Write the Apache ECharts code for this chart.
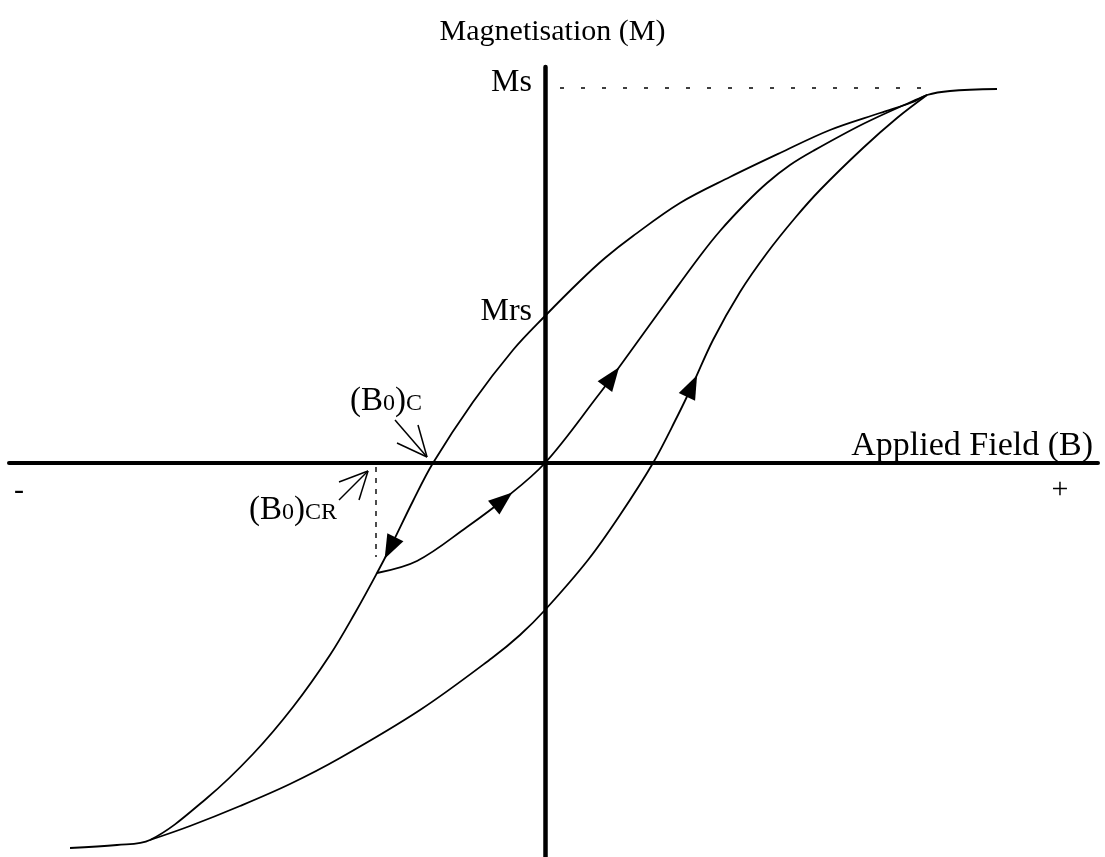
<!DOCTYPE html>
<html>
<head>
<meta charset="utf-8">
<title>Magnetisation hysteresis</title>
<script src="https://cdn.jsdelivr.net/npm/echarts@6/dist/echarts.min.js"></script>
<style>
  html, body { margin: 0; padding: 0; background: #fff; }
  #chart { width: 1105px; height: 857px; }
</style>
</head>
<body>
<div id="chart"></div>
<script>
// Field (B) and magnetisation (M) in arbitrary units, origin at the axis crossing.

// Descending major branch, from positive saturation down to negative saturation.
const upperBranch = [
  [4.52, 3.74], [4.05, 3.72], [3.82, 3.68], [3.68, 3.61], [3.35, 3.50], [2.85, 3.33],
  [2.35, 3.10], [1.85, 2.86], [1.35, 2.60], [0.88, 2.27], [0.60, 2.05], [0.35, 1.82],
  [0, 1.47], [-0.32, 1.13], [-0.72, 0.61], [-1.12, 0], [-1.32, -0.38], [-1.55, -0.85],
  [-1.68, -1.10], [-1.90, -1.50], [-2.15, -1.92], [-2.52, -2.44], [-2.92, -2.91],
  [-3.38, -3.35], [-3.95, -3.77], [-4.28, -3.82], [-4.75, -3.85]
];

// Ascending major branch, from negative saturation back up to positive saturation.
const lowerBranch = [
  [-3.95, -3.77], [-3.55, -3.63], [-3.05, -3.43], [-2.55, -3.21], [-2.05, -2.95],
  [-1.25, -2.47], [-0.53, -1.95], [-0.25, -1.72], [0, -1.47], [0.43, -0.97], [0.75, -0.52],
  [1.08, 0], [1.32, 0.46], [1.47, 0.77], [1.68, 1.23], [1.95, 1.71], [2.22, 2.10],
  [2.50, 2.45], [2.75, 2.73], [3.18, 3.15], [3.52, 3.45], [3.82, 3.68]
];

// Recoil curve from the descending branch through the origin and up to saturation.
const recoilCurve = [
  [-1.68, -1.10], [-1.28, -0.98], [-0.78, -0.64], [-0.42, -0.37], [0, 0], [0.55, 0.70],
  [0.67, 0.86], [0.88, 1.15], [1.22, 1.62], [1.55, 2.07], [1.75, 2.32], [2.00, 2.59],
  [2.22, 2.80], [2.45, 2.98], [2.68, 3.12], [3.18, 3.39], [3.68, 3.62], [3.82, 3.68]
];

// Direction markers: the curve and the point on it where a filled arrowhead sits.
const arrowMarks = [
  { curve: upperBranch, at: [-1.55, -0.85] },
  { curve: recoilCurve, at: [-0.42, -0.37] },
  { curve: recoilCurve, at: [0.67, 0.86] },
  { curve: lowerBranch, at: [1.47, 0.77] }
];

// Reference levels
const msLevel = 3.75;          // saturation magnetisation
const msGuide = [[0.15, msLevel], [3.9, msLevel]];
const bcrGuide = [[-1.69, -0.04], [-1.69, -0.94]];

// Open pointer arrows for the (B0)C and (B0)CR labels: shaft plus two barbs.
const pointerBc = [
  [[-1.50, 0.43], [-1.18, 0.06]],
  [[-1.48, 0.20], [-1.18, 0.06]],
  [[-1.27, 0.38], [-1.18, 0.06]]
];
const pointerBcr = [
  [[-2.06, -0.37], [-1.77, -0.08]],
  [[-2.06, -0.19], [-1.77, -0.08]],
  [[-1.86, -0.37], [-1.77, -0.08]]
];

// Text annotations
const axisTitleM = 'Magnetisation (M)';
const axisTitleB = 'Applied Field (B)';
const textMs = 'Ms';
const textMrs = 'Mrs';
const textMinus = '-';
const textPlus = '+';

const SERIF = '"Liberation Serif", "Times New Roman", serif';

function arrowRotation(curve, at) {
  const i = curve.findIndex(p => p[0] === at[0] && p[1] === at[1]);
  const a = curve[Math.max(0, i - 1)];
  const b = curve[Math.min(curve.length - 1, i + 1)];
  const phi = Math.atan2(b[1] - a[1], b[0] - a[0]) * 180 / Math.PI;
  return phi - 90;
}

function curveSeries(name, data) {
  return {
    name, type: 'line', data, showSymbol: false, smooth: 0.35,
    lineStyle: { color: '#000', width: 1.8 }, z: 3, silent: true
  };
}

function textItem(value, formatter, opts) {
  return {
    value,
    label: Object.assign({
      show: true, position: [0, 0], formatter, color: '#000', opacity: 1,
      fontFamily: SERIF, fontSize: 32
    }, opts)
  };
}

const smallRich = {
  a: { fontFamily: SERIF, fontSize: 33, color: '#000', verticalAlign: 'bottom' },
  b: { fontFamily: SERIF, fontSize: 24, color: '#000', verticalAlign: 'bottom', padding: [0, 0, 2, 0] }
};

const chart = echarts.init(document.getElementById('chart'), null, { renderer: 'canvas' });

chart.setOption({
  backgroundColor: '#fff',
  animation: false,
  title: {
    text: axisTitleM, left: 'center', top: 12,
    textStyle: { fontFamily: SERIF, fontSize: 30, fontWeight: 'normal', color: '#000' }
  },
  grid: { left: 9, right: 7, top: 67, bottom: 0, containLabel: false },
  xAxis: {
    type: 'value', min: -5.36, max: 5.53,
    axisLine: { onZero: true, lineStyle: { color: '#000', width: 4 } },
    axisTick: { show: false }, axisLabel: { show: false }, splitLine: { show: false }
  },
  yAxis: {
    type: 'value', min: -3.94, max: 3.96,
    axisLine: { onZero: true, lineStyle: { color: '#000', width: 4.5 } },
    axisTick: { show: false }, axisLabel: { show: false }, splitLine: { show: false }
  },
  series: [
    curveSeries('descending', upperBranch),
    curveSeries('ascending', lowerBranch),
    curveSeries('recoil', recoilCurve),
    {
      name: 'Ms level', type: 'line', data: msGuide, showSymbol: false, silent: true,
      lineStyle: { color: '#000', width: 1.4, type: [4, 17] }, z: 2
    },
    {
      name: 'Bcr level', type: 'line', data: bcrGuide, showSymbol: false, silent: true,
      lineStyle: { color: '#000', width: 1.4, type: [5, 6] }, z: 2
    },
    {
      name: 'pointers', type: 'lines', coordinateSystem: 'cartesian2d', silent: true,
      lineStyle: { color: '#000', width: 1.5, opacity: 1, curveness: 0 },
      data: pointerBc.concat(pointerBcr).map(c => ({ coords: c })), z: 4
    },
    {
      name: 'direction', type: 'scatter', silent: true, z: 5,
      symbol: 'triangle', symbolSize: [18, 24],
      itemStyle: { color: '#000', opacity: 1 },
      data: arrowMarks.map(m => ({ value: m.at, symbolRotate: arrowRotation(m.curve, m.at) }))
    },
    {
      name: 'annotations', type: 'scatter', silent: true, symbolSize: 0, z: 6,
      itemStyle: { opacity: 1 },
      data: [
        textItem([-0.13, 3.80], textMs, { align: 'right', verticalAlign: 'middle' }),
        textItem([-0.13, 1.51], textMrs, { align: 'right', verticalAlign: 'middle' }),
        textItem([5.48, 0.17], axisTitleB, { align: 'right', verticalAlign: 'middle', fontSize: 34 }),
        textItem([-5.26, -0.28], textMinus, { align: 'center', verticalAlign: 'middle', fontSize: 30 }),
        textItem([5.15, -0.27], textPlus, { align: 'center', verticalAlign: 'middle', fontSize: 30 }),
        textItem([-1.23, 0.62], '{a|(B}{b|0}{a|)}{b|C}', { align: 'right', verticalAlign: 'middle', rich: smallRich }),
        textItem([-2.08, -0.47], '{a|(B}{b|0}{a|)}{b|CR}', { align: 'right', verticalAlign: 'middle', rich: smallRich })
      ]
    }
  ]
});
</script>
</body>
</html>
